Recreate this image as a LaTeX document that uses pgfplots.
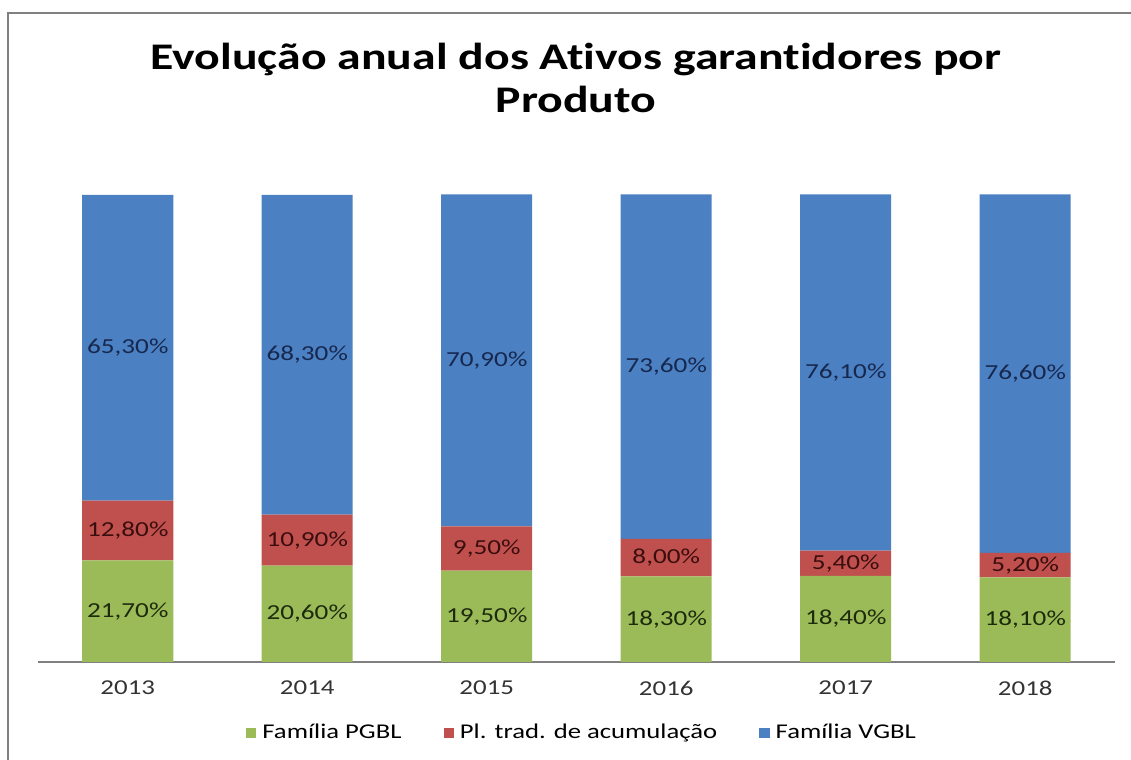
\documentclass[border=0pt]{standalone}
\usepackage{fontspec}
\setmainfont{Carlito}[FakeStretch=1.27, Ligatures=NoCommon]
\usepackage{pgfplots}
\pgfplotsset{compat=1.18}
\definecolor{cgreen}{HTML}{9BBB59}
\definecolor{cred}{HTML}{C0504D}
\definecolor{cblue}{HTML}{4B80C2}
\definecolor{lgreen}{HTML}{1E2A0C}
\definecolor{lred}{HTML}{3A0E0E}
\definecolor{lblue}{HTML}{17284F}
\definecolor{framegray}{HTML}{808080}
\begin{document}
\begin{tikzpicture}
\useasboundingbox (0,0) rectangle (565.5pt,380pt);
\draw[framegray, line width=1pt] (4pt,0) -- (4pt,373.5pt) -- (565.5pt,373.5pt);
\node[align=center, font=\bfseries\fontsize{18.8}{21.5}\selectfont] at (288pt,341pt)
  {Evolução anual dos Ativos garantidores por\\Produto};
\begin{axis}[
  at={(19pt,49pt)}, anchor=south west,
  scale only axis, width=538.5pt, height=234pt,
  ybar stacked, bar width=45.5pt,
  xmin=-0.5, xmax=5.5, ymin=0, ymax=100,
  xtick={0,1,2,3,4,5},
  xticklabels={2013,2014,2015,2016,2017,2018},
  xticklabel style={anchor=center, yshift=-13pt, font=\fontsize{10.6}{12}\selectfont, text=black!80},
  major tick length=0pt,
  axis x line*=bottom,
  x axis line style={draw=gray, line width=0.6pt, -},
  hide y axis,
  /pgf/number format/assume math mode=true,
  legend columns=3,
  legend style={at={(0.506,-0.152)}, anchor=center, draw=none, fill=none,
    font=\fontsize{10.5}{12}\selectfont,
    /tikz/every odd column/.append style={column sep=1pt},
    /tikz/every even column/.append style={column sep=19pt}},
  legend image code/.code={\fill[#1] (0pt,-2.6pt) rectangle (5.2pt,2.6pt);},
]
\addplot[fill=cgreen, draw=none] coordinates {(0,21.7) (1,20.6) (2,19.5) (3,18.3) (4,18.4) (5,18.1)};
\addlegendentry{Família PGBL}
\addplot[fill=cred, draw=none] coordinates {(0,12.8) (1,10.9) (2,9.5) (3,8.0) (4,5.4) (5,5.2)};
\addlegendentry{Pl. trad. de acumulação}
\addplot[fill=cblue, draw=none] coordinates {(0,65.3) (1,68.3) (2,70.9) (3,73.6) (4,76.1) (5,76.6)};
\addlegendentry{Família VGBL}
\end{axis}
\begin{axis}[
  at={(19pt,49pt)}, anchor=south west,
  scale only axis, width=538.5pt, height=234pt,
  xmin=-0.5, xmax=5.5, ymin=0, ymax=100,
  hide axis,
  nodes near coords,
  point meta=explicit symbolic,
  every node near coord/.append style={anchor=center, font=\fontsize{10.7}{12}\selectfont},
]
\addplot[only marks, mark=none, every node near coord/.append style={text=lgreen}]
  coordinates {(0,10.85)[21,70\%] (1,10.3)[20,60\%] (2,9.75)[19,50\%] (3,9.15)[18,30\%] (4,9.2)[18,40\%] (5,9.05)[18,10\%]};
\addplot[only marks, mark=none, every node near coord/.append style={text=lred}]
  coordinates {(0,28.1)[12,80\%] (1,26.05)[10,90\%] (2,24.25)[9,50\%] (3,22.3)[8,00\%] (4,21.1)[5,40\%] (5,20.7)[5,20\%]};
\addplot[only marks, mark=none, every node near coord/.append style={text=lblue}]
  coordinates {(0,67.15)[65,30\%] (1,65.65)[68,30\%] (2,64.45)[70,90\%] (3,63.1)[73,60\%] (4,61.85)[76,10\%] (5,61.6)[76,60\%]};
\end{axis}
\end{tikzpicture}
\end{document}
